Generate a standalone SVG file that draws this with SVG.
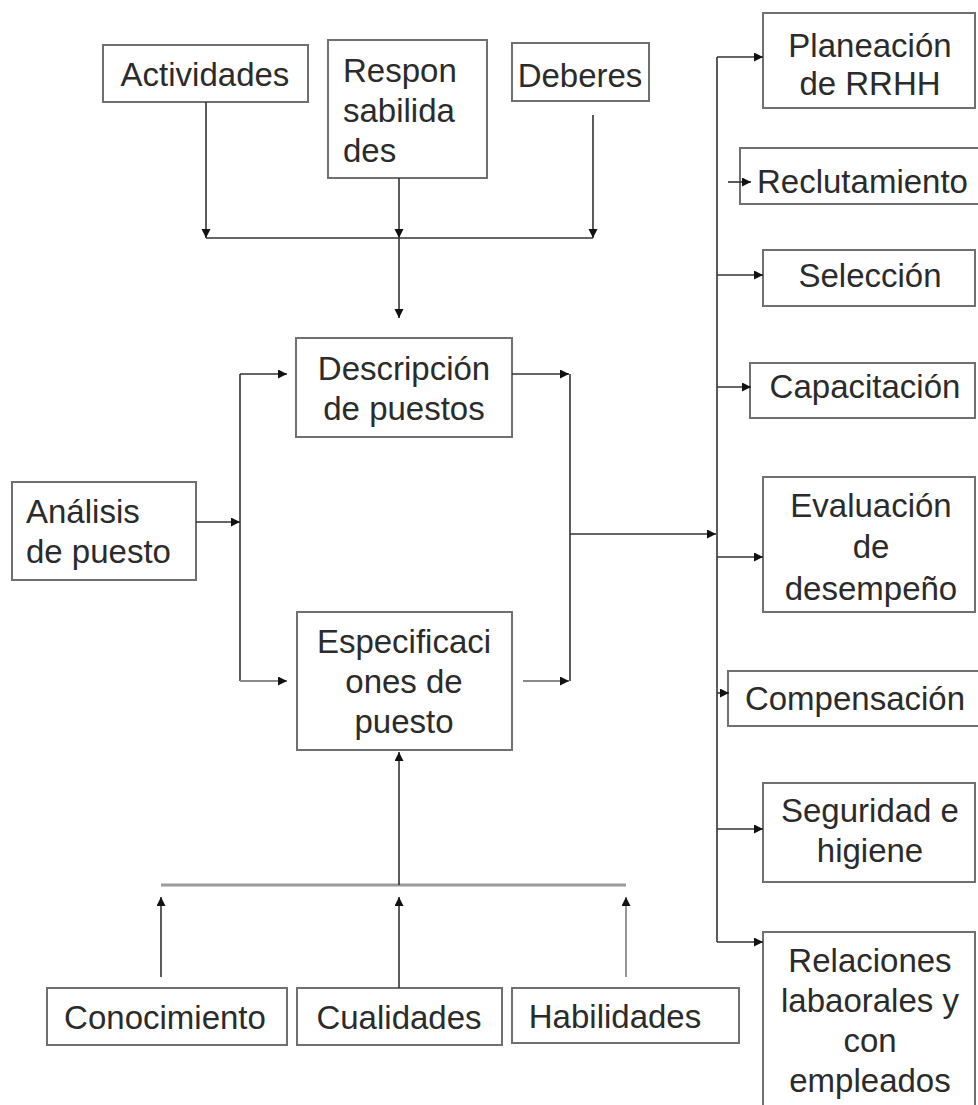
<svg xmlns="http://www.w3.org/2000/svg" width="978" height="1105" viewBox="0 0 978 1105">
  <style>
    .box { fill: #ffffff; stroke: #707070; stroke-width: 2; }
    .lbl { font-family: "Liberation Sans", Arial, sans-serif; font-size: 33px; fill: #2b2b2b; }
    .c { text-anchor: middle; }
    .ln { fill: none; stroke: #333333; stroke-width: 1.6; }
    .lt { fill: none; stroke: #8a8a8a; stroke-width: 1.8; }
    .bus { fill: none; stroke: #9a9a9a; stroke-width: 3; }
  </style>
  <defs>
    <marker id="ah" markerUnits="userSpaceOnUse" markerWidth="10" markerHeight="10" refX="9" refY="4.5" orient="auto">
      <path d="M0,0 L9,4.5 L0,9 z" fill="#111111"/>
    </marker>
  </defs>
  <rect width="978" height="1105" fill="#ffffff"/>

  <!-- top inputs -->
  <g id="actividades">
    <rect class="box" x="103" y="45" width="205" height="57"/>
    <text class="lbl c" x="205" y="86">Actividades</text>
  </g>
  <g id="responsabilidades">
    <rect class="box" x="328" y="40" width="159" height="138"/>
    <text class="lbl" x="343" y="82">Respon</text>
    <text class="lbl" x="343" y="122">sabilida</text>
    <text class="lbl" x="343" y="162">des</text>
  </g>
  <g id="deberes">
    <rect class="box" x="512" y="43" width="137" height="58"/>
    <text class="lbl c" x="580" y="87">Deberes</text>
  </g>

  <!-- central column -->
  <g id="descripcion">
    <rect class="box" x="296" y="338" width="216" height="99"/>
    <text class="lbl c" x="404" y="380">Descripción</text>
    <text class="lbl c" x="404" y="420">de puestos</text>
  </g>
  <g id="analisis">
    <rect class="box" x="12" y="482" width="184" height="98"/>
    <text class="lbl" x="26" y="523">Análisis</text>
    <text class="lbl" x="26" y="563">de puesto</text>
  </g>
  <g id="especificaciones">
    <rect class="box" x="297" y="612" width="215" height="138"/>
    <text class="lbl c" x="404" y="653">Especificaci</text>
    <text class="lbl c" x="404" y="693">ones de</text>
    <text class="lbl c" x="404" y="733">puesto</text>
  </g>

  <!-- bottom inputs -->
  <g id="conocimiento">
    <rect class="box" x="47" y="988" width="240" height="57"/>
    <text class="lbl c" x="165" y="1029">Conocimiento</text>
  </g>
  <g id="cualidades">
    <rect class="box" x="297" y="988" width="205" height="57"/>
    <text class="lbl c" x="399" y="1029">Cualidades</text>
  </g>
  <g id="habilidades">
    <rect class="box" x="512" y="988" width="227" height="55"/>
    <text class="lbl c" x="615" y="1028">Habilidades</text>
  </g>

  <!-- HR functions -->
  <g id="planeacion">
    <rect class="box" x="763" y="13" width="212" height="95"/>
    <text class="lbl c" x="870" y="57">Planeación</text>
    <text class="lbl c" x="870" y="95">de RRHH</text>
  </g>
  <g id="reclutamiento">
    <rect class="box" x="740" y="148" width="240" height="56"/>
    <text class="lbl" x="757" y="193">Reclutamiento</text>
  </g>
  <g id="seleccion">
    <rect class="box" x="763" y="250" width="212" height="56"/>
    <text class="lbl c" x="870" y="287">Selección</text>
  </g>
  <g id="capacitacion">
    <rect class="box" x="750" y="363" width="225" height="55"/>
    <text class="lbl c" x="865" y="398">Capacitación</text>
  </g>
  <g id="evaluacion">
    <rect class="box" x="763" y="477" width="212" height="135"/>
    <text class="lbl c" x="871" y="517">Evaluación</text>
    <text class="lbl c" x="871" y="558">de</text>
    <text class="lbl c" x="871" y="600">desempeño</text>
  </g>
  <g id="compensacion">
    <rect class="box" x="728" y="671" width="252" height="55"/>
    <text class="lbl c" x="855" y="710">Compensación</text>
  </g>
  <g id="seguridad">
    <rect class="box" x="763" y="783" width="212" height="99"/>
    <text class="lbl c" x="870" y="822">Seguridad e</text>
    <text class="lbl c" x="870" y="862">higiene</text>
  </g>
  <g id="relaciones">
    <rect class="box" x="763" y="932" width="212" height="190"/>
    <text class="lbl c" x="870" y="972">Relaciones</text>
    <text class="lbl c" x="870" y="1012">labaorales y</text>
    <text class="lbl c" x="870" y="1052">con</text>
    <text class="lbl c" x="870" y="1092">empleados</text>
  </g>

  <!-- connectors, drawn last so arrowheads sit over box borders -->
  <g id="connectors">
    <!-- inputs of the job description -->
    <path class="ln" d="M206,102 V238" marker-end="url(#ah)"/>
    <path class="ln" d="M399,178 V238" marker-end="url(#ah)"/>
    <path class="ln" d="M593,115 V238" marker-end="url(#ah)"/>
    <path class="ln" d="M206,238 H593"/>
    <path class="ln" d="M399,238 V318" marker-end="url(#ah)"/>

    <!-- job analysis split -->
    <path class="ln" d="M196,522 H240" marker-end="url(#ah)"/>
    <path class="ln" d="M240,374 V681"/>
    <path class="ln" d="M240,374 H287" marker-end="url(#ah)"/>
    <path class="lt" d="M240,681 H287" marker-end="url(#ah)"/>

    <!-- merge towards HR functions -->
    <path class="ln" d="M512,374 H569" marker-end="url(#ah)"/>
    <path class="lt" d="M523,681 H569" marker-end="url(#ah)"/>
    <path class="ln" d="M570,374 V681"/>
    <path class="ln" d="M570,534 H716" marker-end="url(#ah)"/>

    <!-- HR functions trunk and branches -->
    <path class="ln" d="M717,57 V942"/>
    <path class="ln" d="M717,57 H763" marker-end="url(#ah)"/>
    <path class="ln" d="M728,182 H751" marker-end="url(#ah)"/>
    <path class="ln" d="M717,275 H763" marker-end="url(#ah)"/>
    <path class="ln" d="M717,387 H751" marker-end="url(#ah)"/>
    <path class="ln" d="M717,557 H763" marker-end="url(#ah)"/>
    <path class="ln" d="M717,693 H729" marker-end="url(#ah)"/>
    <path class="ln" d="M717,829 H763" marker-end="url(#ah)"/>
    <path class="ln" d="M717,942 H763" marker-end="url(#ah)"/>

    <!-- inputs of the job specification -->
    <path class="bus" d="M161,885 H626"/>
    <path class="ln" d="M399,885 V752" marker-end="url(#ah)"/>
    <path class="ln" d="M161,977 V897" marker-end="url(#ah)"/>
    <path class="ln" d="M399,988 V897" marker-end="url(#ah)"/>
    <path class="lt" d="M626,977 V897" marker-end="url(#ah)"/>
  </g>
</svg>
